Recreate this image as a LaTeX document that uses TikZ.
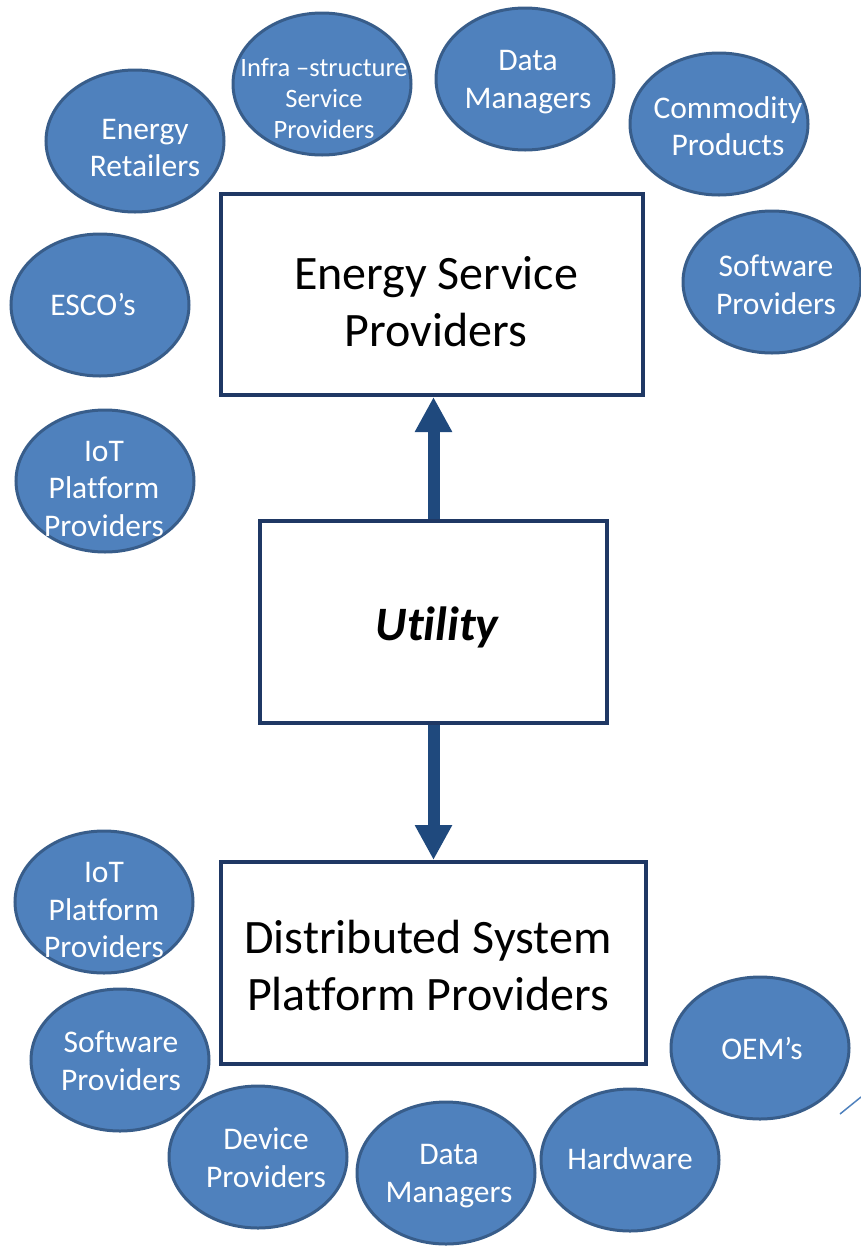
\documentclass[tikz,border=0pt]{standalone}
\usepackage{fontspec}
\setmainfont[Ligatures=NoCommon]{Carlito}
\usetikzlibrary{shapes.geometric,arrows.meta}
\definecolor{bubblefill}{HTML}{4F81BD}
\definecolor{bubbleedge}{HTML}{385D8A}
\definecolor{boxedge}{HTML}{1F3864}
\definecolor{arrowblue}{HTML}{1F497D}
\tikzset{
  bubble/.style={ellipse, draw=bubbleedge, fill=bubblefill, line width=3pt,
    minimum width=178pt, minimum height=142pt, inner sep=0pt},
  btxt/.style={text=white, align=center, inner sep=0pt,
    font=\fontsize{31.5}{37.5}\selectfont},
  bsmall/.style={btxt, font=\fontsize{26.5}{31}\selectfont},
  rolebox/.style={draw=boxedge, line width=4pt, fill=white},
  roletxt/.style={align=center, inner sep=0pt,
    font=\fontsize{48}{57}\selectfont},
  flow/.style={arrowblue, line width=12pt,
    -{Triangle[width=35pt,length=35pt]}}
}
\begin{document}
\begin{tikzpicture}[x=1pt,y=-1pt]
\useasboundingbox (0,0) rectangle (861,1248);

% main role boxes
\node[rolebox, minimum width=422pt, minimum height=201pt] (esp) at (432,294.5) {};
\node[roletxt] at (436,302) {Energy Service\\Providers};
\node[rolebox, minimum width=347pt, minimum height=202pt] (util) at (433.5,622) {};
\node[roletxt] at (437,627) {\bfseries\itshape Utility};
\node[rolebox, minimum width=425pt, minimum height=202pt] (dsp) at (433.5,963) {};
\node[roletxt] at (428,965) {Distributed System\\Platform Providers};

% flows out of the utility
\draw[flow] (util.north) -- (util.north |- esp.south);
\draw[flow] (util.south) -- (util.south |- dsp.north);

% participants around the energy service providers
\node[bubble] (er) at (135,141) {};
\node[btxt] at (145,148) {Energy\\Retailers};
\node[bubble] (infra) at (322,84) {};
\node[bsmall] at (324,99) {Infra –structure\\Service\\Providers};
\node[bubble] (dmt) at (525,79) {};
\node[btxt] at (528,82) {Data\\Managers};
\node[bubble] (comm) at (719,124) {};
\node[btxt] at (728,126) {Commodity\\Products};
\node[bubble] (swt) at (772,282) {};
\node[btxt] at (776,285) {Software\\Providers};
\node[bubble] (esco) at (100,305) {};
\node[btxt] at (93,305) {ESCO’s};
\node[bubble] (iott) at (105,481) {};
\node[btxt] at (104,489) {IoT\\Platform\\Providers};

% participants around the platform providers
\node[bubble] (iotb) at (104,902) {};
\node[btxt] at (104,910) {IoT\\Platform\\Providers};
\node[bubble] (swb) at (120,1060) {};
\node[btxt] at (121,1061) {Software\\Providers};
\node[bubble] (dev) at (258,1157) {};
\node[btxt] at (266,1158) {Device\\Providers};
\node[bubble] (dmb) at (446,1173) {};
\node[btxt] at (449,1176) {Data\\Managers};
\node[bubble] (hw) at (630,1160) {};
\node[btxt] at (630,1159) {Hardware};
\node[bubble] (oem) at (760,1048) {};
\node[btxt] at (762,1048) {OEM’s};

% stray stroke at the right edge
\coordinate (s1) at (840,1114);
\coordinate (s2) at (861,1097);
\draw[bubblefill, line width=1.5pt] (s1) -- (s2);
\end{tikzpicture}
\end{document}
